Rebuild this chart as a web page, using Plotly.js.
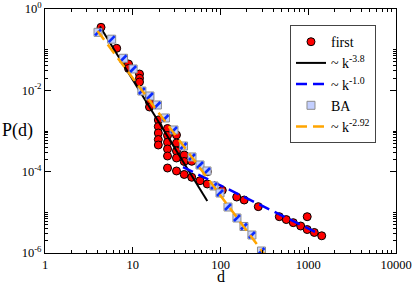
<!DOCTYPE html>
<html>
<head>
<meta charset="utf-8">
<script src="https://cdn.plot.ly/plotly-3.0.1.min.js"></script>
<style>
  html, body { margin: 0; padding: 0; background: #fff; }
  #chart { width: 415px; height: 286px; }
</style>
</head>
<body>
<div id="chart"></div>
<script>
// ---- data ----
const firstD = [4.35, 6.56, 8.95, 8.95, 11.94, 11.94, 11.94, 15.52, 15.52, 15.52,
  19.55, 19.55, 19.55, 19.55, 19.55, 24.9, 24.9, 24.9, 24.9, 24.9, 24.9,
  31.5, 31.5, 31.5, 31.5, 31.5, 38.6, 38.6, 38.6, 47.0, 47.0, 58.4, 70.7, 70.7,
  104.8, 153, 186.3, 269.7, 468, 562, 675, 820, 973, 973, 1172, 1424];
const firstP = [0.355, 0.108, 0.0444, 0.0344, 0.0252, 0.0198, 0.0160, 0.00686, 0.00517, 0.00389,
  0.00187, 0.00129, 8.93e-4, 6.18e-4, 4.53e-4, 1.153e-3, 7.76e-4, 5.28e-4, 3.61e-4, 2.43e-4, 1.23e-4,
  7.98e-4, 5.07e-4, 3.22e-4, 2.17e-4, 1.04e-4, 2.57e-4, 1.78e-4, 8.53e-5, 1.80e-4, 7.28e-5, 6.0e-5, 1.0e-4, 4.98e-5,
  3.48e-5, 2.38e-5, 2.01e-5, 1.38e-5, 7.82e-6, 6.64e-6, 5.57e-6, 4.61e-6, 7.82e-6, 3.77e-6, 3.20e-6, 2.65e-6];

const steepFitD = [4.23, 70.7];
const steepFitP = [0.371, 1.90e-5];
const flatFitD = [37.4, 1309];
const flatFitP = [1.30e-4, 3.02e-6];

const baD = [4.02, 5.75, 7.85, 10.1, 12.7, 15.7, 19.1, 23.6, 29.5, 37.9,
  47.3, 58.4, 70.2, 84.3, 98.7, 121.7, 154, 185, 228, 293];
const baP = [0.267, 0.181, 0.0614, 0.0335, 0.00963, 0.00726, 0.00436, 0.00209, 0.00106, 4.28e-4,
  2.3e-4, 1.46e-4, 1.04e-4, 4.44e-5, 2.99e-5, 1.35e-5, 7.26e-6, 4.49e-6, 2.77e-6, 1.12e-6];

const baFitD = [3.97, 321];
const baFitP = [0.288, 8.9e-7];

const seriesNames = ['first', '~ k<sup>-3.8</sup>', '~ k<sup>-1.0</sup>', 'BA', '~ k<sup>-2.92</sup>'];
const xTickVals = [1, 10, 100, 1000, 10000];
const xTickText = ['1', '10', '100', '1000', '10000'];
const yTickVals = [1, 1e-2, 1e-4, 1e-6];
const yTickText = ['10<sup>0</sup>', '10<sup>-2</sup>', '10<sup>-4</sup>', '10<sup>-6</sup>'];
const xTitle = 'd';
const yTitle = 'P(d)';

// minor tick positions (Grace-style)
const xMinor = [];
for (let e = 0; e < 4; e++) for (let k = 2; k <= 9; k++) xMinor.push(k * Math.pow(10, e));
const yMinor = [];
[-2, -4, -6].forEach(e => { for (let k = 2; k <= 10; k++) yMinor.push(k * Math.pow(10, e)); });

const FONT = 'Liberation Serif, Times New Roman, serif';

const traces = [
  { x: firstD, y: firstP, type: 'scatter', mode: 'markers', name: seriesNames[0],
    marker: { symbol: 'circle', size: 8, color: '#ff0000', line: { color: '#000', width: 1 } } },
  { x: steepFitD, y: steepFitP, type: 'scatter', mode: 'lines', name: seriesNames[1],
    line: { color: '#000', width: 2 } },
  { x: flatFitD, y: flatFitP, type: 'scatter', mode: 'lines', name: seriesNames[2],
    line: { color: '#0000ff', width: 2.5, dash: '11px,6px' } },
  { x: baD, y: baP, type: 'scatter', mode: 'markers', name: seriesNames[3],
    marker: { symbol: 'square', size: 8, color: '#c3cfff', line: { color: '#8c8c8c', width: 1 } } },
  { x: baD, y: baP, type: 'scatter', mode: 'markers', showlegend: false, hoverinfo: 'skip',
    marker: { symbol: 'line-ne', size: 6, line: { color: '#0a2cff', width: 2.6 } } },
  { x: baFitD, y: baFitP, type: 'scatter', mode: 'lines', name: seriesNames[4],
    line: { color: '#ffa500', width: 2.5, dash: '11px,6px' } }
];

const axisCommon = {
  type: 'log', showgrid: false, zeroline: false,
  showline: true, linecolor: '#000', linewidth: 1, mirror: 'allticks',
  ticks: 'inside', ticklen: 6, tickcolor: '#000', tickwidth: 1,
  tickmode: 'array', tickfont: { family: FONT, size: 12.5, color: '#000' }
};

const layout = {
  width: 415, height: 286,
  margin: { l: 45, r: 19, t: 9, b: 33 },
  paper_bgcolor: '#fff', plot_bgcolor: '#fff',
  font: { family: FONT, color: '#000' },
  showlegend: true,
  xaxis: Object.assign({}, axisCommon, {
    range: [0, 4], tickvals: xTickVals, ticktext: xTickText,
    minor: { tickmode: 'array', tickvals: xMinor, ticks: 'inside', ticklen: 3, tickcolor: '#000', showgrid: false }
  }),
  yaxis: Object.assign({}, axisCommon, {
    range: [-6, 0], tickvals: yTickVals, ticktext: yTickText,
    minor: { tickmode: 'array', tickvals: yMinor, ticks: 'inside', ticklen: 3, tickcolor: '#000', showgrid: false }
  }),
  legend: {
    x: 0.698, y: 0.934, xanchor: 'left', yanchor: 'top',
    bgcolor: '#fff', bordercolor: '#444', borderwidth: 1,
    font: { family: FONT, size: 14, color: '#000' },
    tracegroupgap: 0, itemwidth: 30
  },
  annotations: [
    { text: yTitle, xref: 'paper', yref: 'paper', x: -0.077, y: 0.504,
      xanchor: 'center', yanchor: 'middle', showarrow: false,
      font: { family: FONT, size: 18, color: '#000' } },
    { text: xTitle, xref: 'paper', yref: 'paper', x: 0.5, y: -0.135,
      xanchor: 'center', yanchor: 'bottom', showarrow: false, borderpad: 0,
      font: { family: FONT, size: 16, color: '#000' } }
  ]
};

Plotly.newPlot('chart', traces, layout, { staticPlot: true, displayModeBar: false });
</script>
</body>
</html>
